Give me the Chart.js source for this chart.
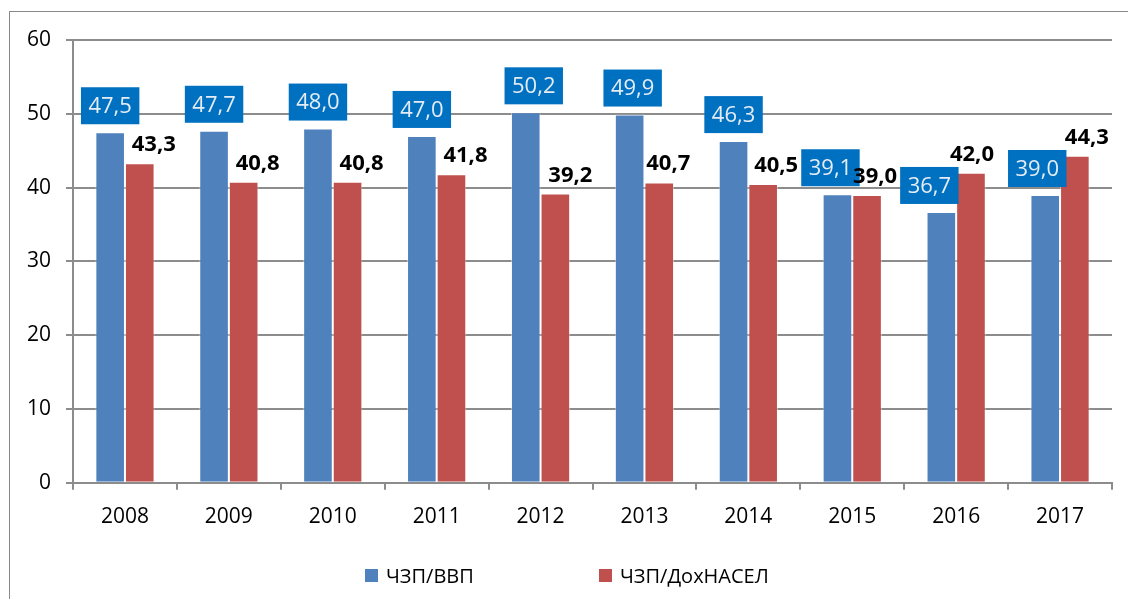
<!DOCTYPE html>
<html>
<head>
<meta charset="utf-8">
<script src="https://cdn.jsdelivr.net/npm/chart.js@4"></script>
<style>
    body { margin: 0; background: #fff; }
    #wrap { position: relative; width: 1128px; height: 599px; overflow: hidden; }
    #frame { position: absolute; left: 9px; top: 11px; width: 1200px; height: 700px; border: 1px solid #898989; }
    canvas { position: absolute; left: 0; top: 0; }
    .legend { position: absolute; top: 562px; font-family: "Open Sans", sans-serif; font-size: 20px; color: #000; }
    .legend span.box { position: absolute; top: 7px; width: 13px; height: 13px; }
    .legend span.txt { position: absolute; left: 21px; white-space: nowrap; }
</style>
</head>
<body>
<div id="wrap">
    <div id="frame"></div>
    <canvas id="chart" width="1128" height="599"></canvas>
    <div class="legend" style="left:365px"><span class="box" style="background:#4F81BD"></span><span class="txt">ЧЗП/ВВП</span></div>
    <div class="legend" style="left:599px"><span class="box" style="background:#C0504D"></span><span class="txt">ЧЗП/ДохНАСЕЛ</span></div>
</div>
<script>
const years = ['2008', '2009', '2010', '2011', '2012', '2013', '2014', '2015', '2016', '2017'];
const gdpShare = [47.5, 47.7, 48.0, 47.0, 50.2, 49.9, 46.3, 39.1, 36.7, 39.0];
const incomeShare = [43.3, 40.8, 40.8, 41.8, 39.2, 40.7, 40.5, 39.0, 42.0, 44.3];
const yTicks = [0, 10, 20, 30, 40, 50, 60];

// label nudges (px), like the hand-placed labels in the original
const blueShift = [0, 0, 0, 0, 8, 3, 0, -7, -12, -8];
const redShift = [14, 14, 14, 14, 15, 9, 13, 8, 1, 12];

const fmt = v => v.toFixed(1).replace('.', ',');
const FONT = '"Open Sans", sans-serif';

const valueLabels = {
    id: 'valueLabels',
    afterDatasetsDraw(chart) {
        const ctx = chart.ctx;
        ctx.save();
        ctx.textAlign = 'center';
        ctx.textBaseline = 'middle';

        // blue boxed labels
        ctx.font = '22px ' + FONT;
        chart.getDatasetMeta(0).data.forEach((bar, i) => {
            const text = fmt(gdpShare[i]);
            const w = ctx.measureText(text).width + 15;
            const h = 37;
            const cx = bar.x + blueShift[i];
            const bottom = bar.y - 8;
            ctx.fillStyle = '#0070C0';
            ctx.fillRect(cx - w / 2, bottom - h, w, h);
            ctx.fillStyle = '#E4ECF5';
            ctx.fillText(text, cx, bottom - h / 2 + 1);
        });

        // bold black labels
        ctx.font = 'bold 22px ' + FONT;
        ctx.fillStyle = '#000';
        ctx.textBaseline = 'alphabetic';
        chart.getDatasetMeta(1).data.forEach((bar, i) => {
            ctx.fillText(fmt(incomeShare[i]), bar.x + redShift[i], bar.y - 12);
        });
        ctx.restore();
    }
};

new Chart(document.getElementById('chart'), {
    type: 'bar',
    data: {
        labels: years,
        datasets: [{
            label: 'ЧЗП/ВВП',
            data: gdpShare,
            backgroundColor: '#4F81BD',
            borderColor: 'rgba(255,255,255,0.45)',
            borderWidth: 1,
            barPercentage: 1,
            categoryPercentage: 0.57
        }, {
            label: 'ЧЗП/ДохНАСЕЛ',
            data: incomeShare,
            backgroundColor: '#C0504D',
            borderColor: 'rgba(255,255,255,0.45)',
            borderWidth: 1,
            barPercentage: 1,
            categoryPercentage: 0.57
        }]
    },
    options: {
        responsive: false,
        animation: false,
        layout: { padding: { left: 12, top: 40, right: 16, bottom: 54 } },
        plugins: {
            legend: { display: false },
            tooltip: { enabled: false }
        },
        scales: {
            x: {
                grid: { offset: true, drawOnChartArea: false, color: '#8C8C8C', lineWidth: 2, tickLength: 7 },
                border: { color: '#8C8C8C', width: 2 },
                ticks: { color: '#000', padding: 15, font: { family: FONT, size: 21 } }
            },
            y: {
                min: 0,
                max: 60,
                afterBuildTicks: axis => { axis.ticks = yTicks.map(v => ({ value: v })); },
                grid: { color: '#8C8C8C', lineWidth: 2, tickLength: 7 },
                border: { color: '#8C8C8C', width: 2 },
                ticks: { color: '#000', padding: 15, font: { family: FONT, size: 21 } }
            }
        }
    },
    plugins: [valueLabels]
});
</script>
</body>
</html>
